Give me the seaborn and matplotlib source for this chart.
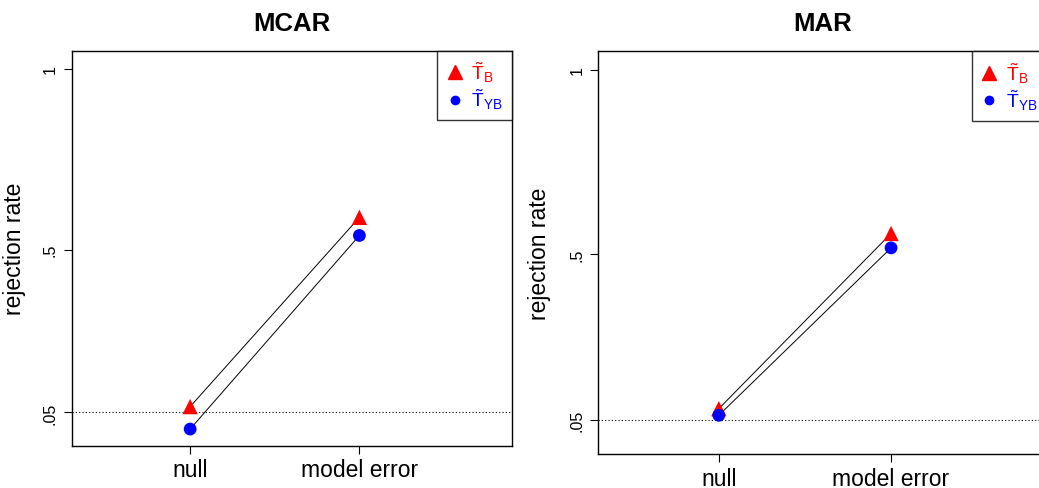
import pandas as pd
import matplotlib
matplotlib.use("Agg")
import matplotlib.pyplot as plt
import seaborn as sns
from matplotlib.lines import Line2D

# === Data ===
conditions = ["null", "model error"]
panels = ["MCAR", "MAR"]
mcar_tb = [0.066, 0.589]
mcar_tyb = [0.004, 0.539]
mar_tb = [0.081, 0.556]
mar_tyb = [0.063, 0.517]
yticks = [0.05, 0.5, 1.0]
ytick_labels = [".05", ".5", "1"]
alpha_level = 0.05

sns.set_theme(style="white")
plt.rcParams["font.family"] = ["Liberation Sans", "DejaVu Sans"]
plt.rcParams["mathtext.fontset"] = "custom"
plt.rcParams["mathtext.rm"] = "Liberation Sans"
plt.rcParams["mathtext.it"] = "Liberation Sans:italic"
plt.rcParams["mathtext.bf"] = "Liberation Sans:bold"
for key in ["text.color", "axes.labelcolor", "xtick.color", "ytick.color"]:
    plt.rcParams[key] = "black"

stat_names = ["TB", "TYB"]
stat_labels = [r"$\tilde{\mathrm{T}}_{\mathrm{B}}$", r"$\tilde{\mathrm{T}}_{\mathrm{YB}}$"]
colors = {"TB": "#ff0000", "TYB": "#0000ff"}
markers = {"TB": "^", "TYB": "o"}
sizes = {"TB": 121, "TYB": 85}

fig = plt.figure(figsize=(10.39, 4.89), dpi=100)
ax_left = fig.add_axes([0.069, 0.0865, 0.4235, 0.808])
ax_right = fig.add_axes([0.5758, 0.0695, 0.431, 0.8235])

panel_data = {"MCAR": (mcar_tb, mcar_tyb), "MAR": (mar_tb, mar_tyb)}
label_x = {"MCAR": -0.104, "MAR": -0.106}

for ax, name in zip([ax_left, ax_right], panels):
    tb, tyb = panel_data[name]
    df = pd.DataFrame({
        "condition": conditions * 2,
        "rate": tb + tyb,
        "stat": ["TB"] * len(conditions) + ["TYB"] * len(conditions),
    })

    ax.axhline(alpha_level, color="black", lw=0.8, ls=(0, (1, 2)), zorder=1)
    sns.lineplot(data=df, x="condition", y="rate", units="stat", estimator=None,
                 color="black", lw=0.7, ax=ax, legend=False, zorder=2)
    sns.scatterplot(data=df, x="condition", y="rate", hue="stat", style="stat",
                    size="stat", palette=colors, markers=markers, sizes=sizes,
                    linewidth=0, ax=ax, legend=False, zorder=3)

    ax.set_xlim(-0.7, 1.9)
    ax.set_ylim(-0.042, 1.05)
    ax.set_xticks(range(len(conditions)))
    ax.set_xticklabels(conditions, fontsize=16.5)
    ax.set_yticks(yticks)
    ax.set_yticklabels(ytick_labels, rotation=90, va="center", fontsize=11.5)
    ax.tick_params(axis="both", bottom=True, left=True, direction="out",
                   length=6, width=0.8, color="black", pad=3)
    ax.tick_params(axis="y", pad=4)
    for sp in ax.spines.values():
        sp.set_color("black")
        sp.set_linewidth(1.0)

    ax.set_xlabel("")
    ax.set_ylabel("rejection rate", fontsize=16.5)
    ax.yaxis.set_label_coords(label_x[name], 0.5)
    ax.set_title(name, fontsize=18.5, fontweight="bold", pad=15)

    handles = [
        Line2D([], [], ls="", marker=markers[s], color=colors[s],
               markersize=9.5 if s == "TB" else 6, label=lab)
        for s, lab in zip(stat_names, stat_labels)
    ]
    leg = ax.legend(handles=handles, loc="upper right", borderaxespad=0,
                    fontsize=14, frameon=True, fancybox=False,
                    handlelength=0.9, handletextpad=0.4, borderpad=0.45,
                    labelspacing=0.15)
    leg.get_frame().set_edgecolor("black")
    leg.get_frame().set_linewidth(1.0)
    for txt, s in zip(leg.get_texts(), stat_names):
        txt.set_color(colors[s])

fig.savefig("out.png", dpi=100)
